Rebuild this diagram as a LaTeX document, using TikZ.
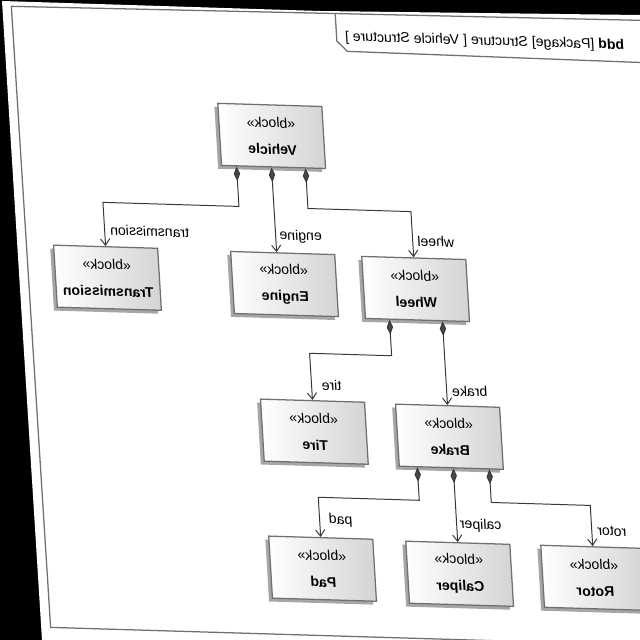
\documentclass[tikz,border=0pt]{standalone}
\usepackage{fontspec}
\setmainfont{Liberation Sans}
\usepackage{tikz}
\usetikzlibrary{arrows.meta,calc,shadows}
\definecolor{grisBord}{RGB}{112,112,112}
\colorlet{Trait}{black!78}
\colorlet{Ombre}{black!35}

\begin{document}
\begin{tikzpicture}[x=0.025cm,y=-0.025cm,
    bloc/.style={draw=grisBord,line width=0.9pt,minimum width=2.6cm,minimum height=1.55cm,
      align=center,font=\fontsize{10}{12}\selectfont,left color=white,right color=black!17,
      drop shadow={shadow xshift=-2.4pt,shadow yshift=-2.4pt,fill=Ombre,opacity=1},
      xscale=-1,transform shape},
    role/.style={font=\fontsize{10}{12}\selectfont,inner sep=1pt,xscale=-1,transform shape},
    comp/.style={draw=Trait,line width=0.7pt,
      {Diamond[length=10.5pt,width=4.5pt,fill=black!72]}-{Straight Barb[length=4.5pt,width=6.5pt]}},
    cadre/.style={draw=grisBord,line width=0.9pt}
  ]
  \useasboundingbox (0,0) rectangle (640,640);
  % Le papier photographié, un peu de travers, sur fond noir.
  \fill[black] (0,0) rectangle (640,640);
  \fill[white] (2,1) -- (320,11) -- (640,15) -- (640,640) -- (42,640) -- cycle;
  \clip (0,0) rectangle (640,640);

  \begin{scope}[cm={1,-0.03,-0.06,1,(0,0)}]
    \draw[cadre] (11,6) -- (720,0.5) -- (720,627) -- (13,627) -- cycle;
    \draw[cadre] (335,3.5) -- (335,31) -- (345,41) -- (720,44);
    \node[role] (titre) at (483,27) {\textbf{bdd} [Package] Structure [ Vehicle Structure ]};

    \node[bloc] (vehicle) at (264,128) {«block»\\[7pt]\textbf{Vehicle}};
    \node[bloc] (transmission) at (91,275) {«block»\\[7pt]\textbf{Transmission}};
    \node[bloc] (engine) at (268,276) {«block»\\[7pt]\textbf{Engine}};
    \node[bloc] (wheel) at (399,277) {«block»\\[7pt]\textbf{Wheel}};
    \node[bloc] (tire) at (289,423) {«block»\\[7pt]\textbf{Tire}};
    \node[bloc] (brake) at (424,424) {«block»\\[7pt]\textbf{Brake}};
    \node[bloc] (pad) at (289,560) {«block»\\[7pt]\textbf{Pad}};
    \node[bloc] (caliper) at (426,561) {«block»\\[7pt]\textbf{Caliper}};
    \node[bloc] (rotor) at (561,561) {«block»\\[7pt]\textbf{Rotor}};

    \draw[comp] ($(vehicle.south)+(-37,0)$) -- ++(0,40) -- ++(-136,0) -- (transmission.north);
    \draw[comp] ($(vehicle.south)+(-2,0)$) -- ($(engine.north)+(-6,0)$);
    \draw[comp] ($(vehicle.south)+(32,0)$) -- ++(0,40) -- ++(103,0) -- (wheel.north);
    \draw[comp] ($(wheel.south)+(-28,0)$) -- ++(0,36) -- ++(-82,0) -- (tire.north);
    \draw[comp] ($(wheel.south)+(25,0)$) -- (brake.north);
    \draw[comp] ($(brake.south)+(-34,0)$) -- ++(0,33) -- ++(-101,0) -- (pad.north);
    \draw[comp] ($(brake.south)+(2,0)$) -- (caliper.north);
    \draw[comp] ($(brake.south)+(38,0)$) -- ++(0,33) -- ++(99,0) -- (rotor.north);

    \node[role] (ltransmission) at (136,227) {transmission};
    \node[role] (lengine) at (287,228) {engine};
    \node[role] (lwheel) at (422,229) {wheel};
    \node[role] (ltire) at (309,376) {tire};
    \node[role] (lbrake) at (447,378) {brake};
    \node[role] (lpad) at (310,511) {pad};
    \node[role] (lcaliper) at (450,512) {caliper};
    \node[role] (lrotor) at (581,514) {rotor};
  \end{scope}
\end{tikzpicture}
\end{document}
